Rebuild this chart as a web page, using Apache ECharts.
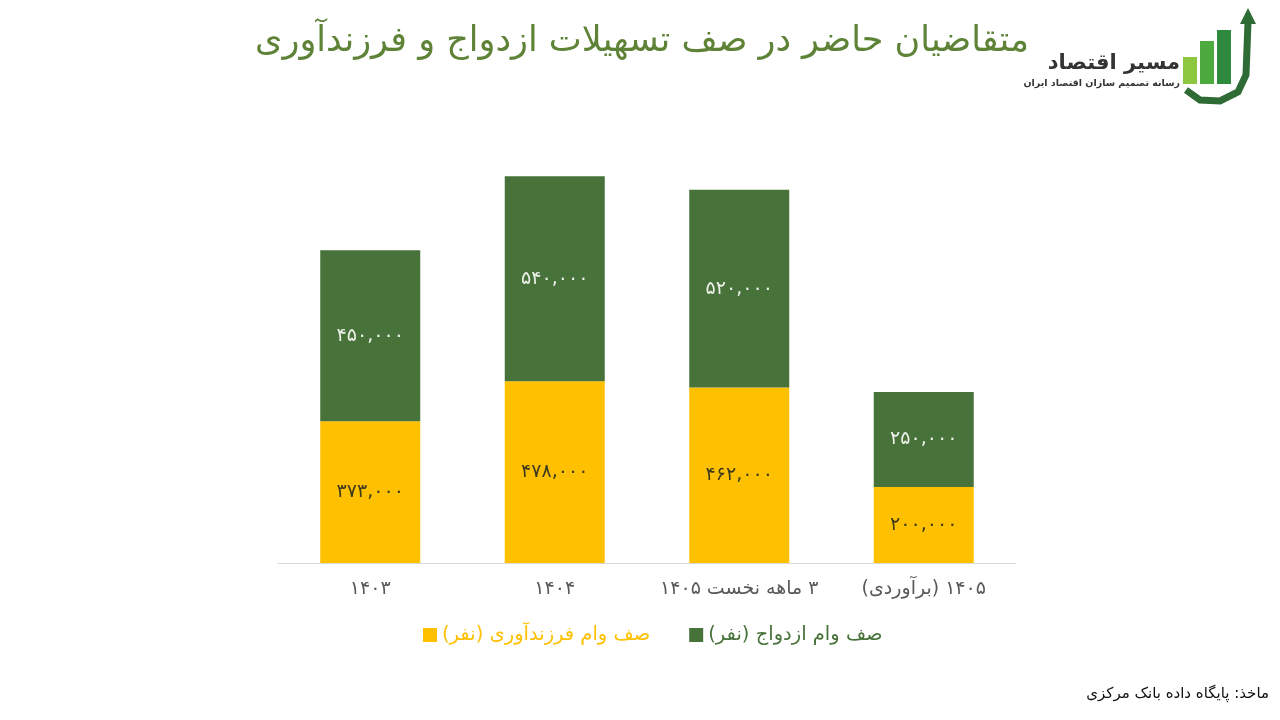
<!DOCTYPE html>
<html dir="rtl">
<head>
<meta charset="utf-8">
<script src="https://cdn.jsdelivr.net/npm/echarts@6/dist/echarts.min.js"></script>
<style>html,body{margin:0;padding:0;background:#fff}#c{width:1280px;height:720px}</style>
</head>
<body>
<div id="c"></div>
<script>
const categories = ['۱۴۰۳', '۱۴۰۴', '۳ ماهه نخست ۱۴۰۵', '۱۴۰۵ (برآوردی)'];
const childbirthQueue = [373000, 478000, 462000, 200000];
const marriageQueue = [450000, 540000, 520000, 250000];
const seriesNames = ['صف وام فرزندآوری (نفر)', 'صف وام ازدواج (نفر)'];
const titleText = 'متقاضیان حاضر در صف تسهیلات ازدواج و فرزندآوری';
const sourceText = 'ماخذ: پایگاه داده بانک مرکزی';

const FONT = 'DejaVu Sans';
const GREEN = '#47733A';
const YELLOW = '#FFC000';
function fa(n) {
  return n.toLocaleString('en-US').replace(/\d/g, d => '۰۱۲۳۴۵۶۷۸۹'[d]);
}

const chart = echarts.init(document.getElementById('c'));
chart.setOption({
  backgroundColor: '#ffffff',
  animation: false,
  title: {
    text: titleText,
    left: 637, top: 19, textAlign: 'center',
    textStyle: { color: '#5E8236', fontSize: 35, fontWeight: 'normal', fontFamily: FONT }
  },
  legend: {
    data: [
      { name: seriesNames[0], textStyle: { color: YELLOW } },
      { name: seriesNames[1], textStyle: { color: GREEN } }
    ],
    left: 418, top: 620,
    itemWidth: 14, itemHeight: 14, itemGap: 39,
    icon: 'rect',
    textStyle: { fontSize: 19.5, fontFamily: FONT }
  },
  grid: { left: 278, right: 264, top: 107, bottom: 157 },
  xAxis: {
    type: 'category',
    data: categories,
    axisLine: { lineStyle: { color: '#d9d9d9', width: 1 } },
    axisTick: { show: false },
    axisLabel: { color: '#595959', fontSize: 19, fontFamily: FONT, margin: 17, interval: 0 }
  },
  yAxis: {
    type: 'value', min: 0, max: 1200000,
    show: false, splitLine: { show: false }
  },
  series: [
    {
      name: seriesNames[0], type: 'bar', stack: 'total', barWidth: 100,
      data: childbirthQueue,
      itemStyle: { color: YELLOW },
      label: { show: true, position: 'inside', color: '#3d3a1e', fontSize: 19, fontFamily: FONT, formatter: p => fa(p.value) }
    },
    {
      name: seriesNames[1], type: 'bar', stack: 'total', barWidth: 100,
      data: marriageQueue,
      itemStyle: { color: GREEN },
      label: { show: true, position: 'inside', color: '#eef2ea', fontSize: 19, fontFamily: FONT, formatter: p => fa(p.value) }
    }
  ],
  graphic: [
    { type: 'text', style: { x: 1269, y: 694, text: sourceText, fill: '#111', font: '15px "DejaVu Sans"', textAlign: 'right', textVerticalAlign: 'middle' } },
    // logo
    { type: 'rect', shape: { x: 1183, y: 57, width: 14, height: 27 }, style: { fill: '#8DC63F' } },
    { type: 'rect', shape: { x: 1200, y: 41, width: 14, height: 43 }, style: { fill: '#4DAA3E' } },
    { type: 'rect', shape: { x: 1217, y: 30, width: 14, height: 54 }, style: { fill: '#2E8B3E' } },
    { type: 'polyline', shape: { points: [[1186, 90], [1200, 100], [1220, 101], [1238, 92], [1246, 75], [1248, 22]] }, style: { stroke: '#2F6B35', lineWidth: 7, fill: null } },
    { type: 'polygon', shape: { points: [[1240, 24], [1248, 8], [1256, 24]] }, style: { fill: '#2F6B35' } },
    { type: 'text', style: { x: 1180, y: 64, text: 'مسیر اقتصاد', fill: '#333', font: 'bold 21px "DejaVu Sans"', textAlign: 'right', textVerticalAlign: 'middle' } },
    { type: 'text', style: { x: 1180, y: 84, text: 'رسانه تصمیم سازان اقتصاد ایران', fill: '#333', font: 'bold 9.5px "DejaVu Sans"', textAlign: 'right', textVerticalAlign: 'middle' } }
  ]
});
</script>
</body>
</html>
